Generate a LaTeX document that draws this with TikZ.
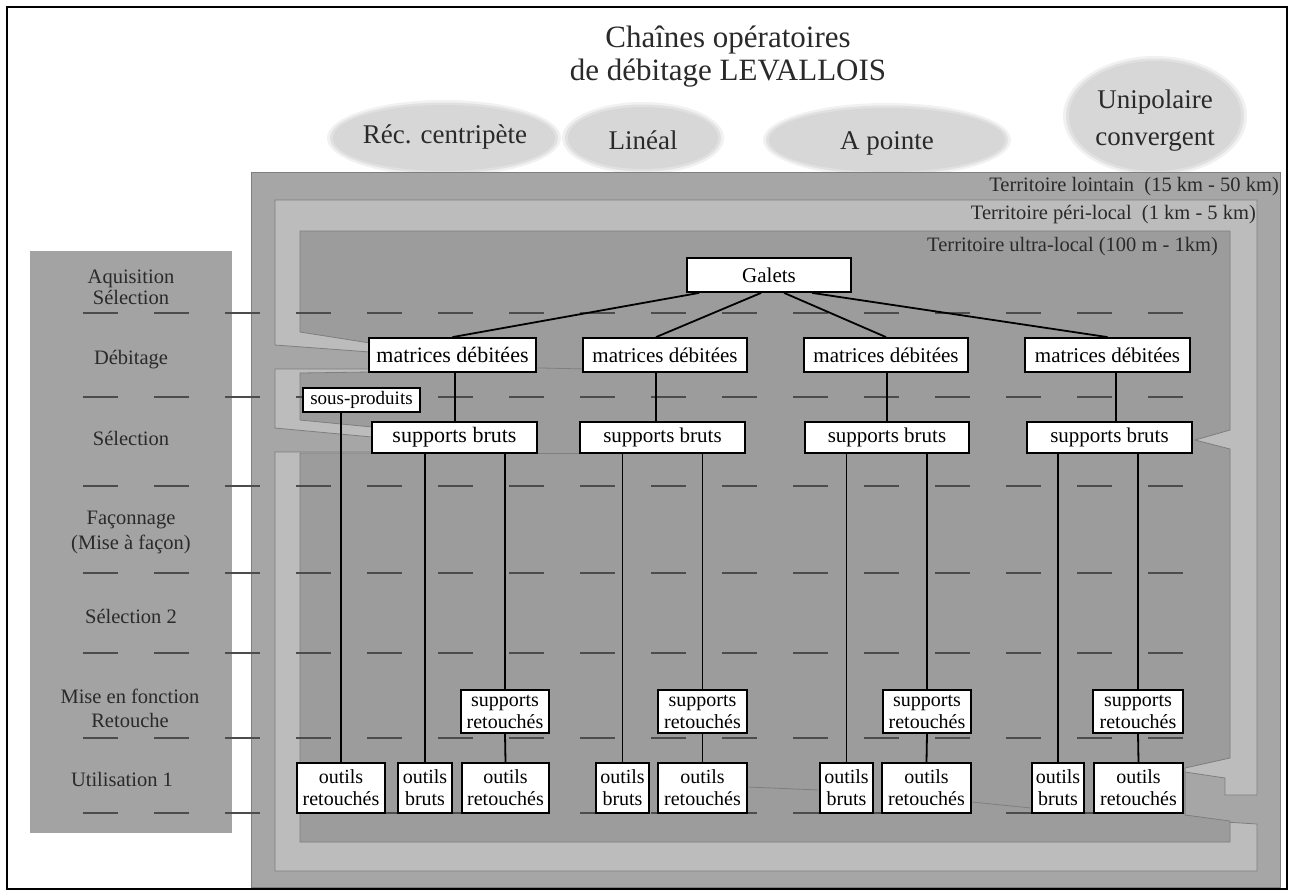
\documentclass[tikz,border=0pt]{standalone}
\usepackage{fontspec}
\setmainfont{Liberation Serif}
\usetikzlibrary{calc,shapes.geometric}
\definecolor{lointain}{HTML}{A6A6A6}
\definecolor{perilocal}{HTML}{BCBCBC}
\definecolor{ultralocal}{HTML}{9C9C9C}
\definecolor{phasepanel}{HTML}{A3A3A3}
\definecolor{edgegray}{HTML}{7E7E7E}
\definecolor{ovalgray}{HTML}{D7D7D7}
\definecolor{inkgray}{HTML}{2A2A2A}
\begin{document}
\begin{tikzpicture}[x=1pt,y=-1pt,
  bigbox/.style={draw=black,line width=1.8pt,fill=white,inner sep=0pt,
    minimum height=34pt,font=\fontsize{21}{22}\selectfont},
  smallbox/.style={draw=black,line width=1.8pt,fill=white,inner sep=0pt,
    align=center,font=\fontsize{20}{22}\selectfont},
  conn/.style={line width=1.8pt,black},
  faint/.style={line width=0.8pt,edgegray},
  rowdash/.style={line width=1.3pt,color=black!70,dash pattern=on 35pt off 36pt},
  phase/.style={align=center,text=inkgray,inner sep=0pt},
  terr/.style={anchor=east,inner sep=0pt,text=inkgray,font=\fontsize{20.5}{21}\selectfont},
  oval/.style={ellipse,fill=ovalgray,inner sep=0pt},
  ovaltext/.style={inner sep=0pt,text=inkgray,align=center,font=\fontsize{27}{37}\selectfont}]
\useasboundingbox (0,0) rectangle (1293,892);
\fill[white] (0,0) rectangle (1293,892);
\draw[line width=2pt] (7,7) rectangle (1287,889);

% title
\node[inner sep=0pt,text=inkgray,font=\fontsize{31}{33}\selectfont] (t1) at (728,40) {Chaînes opératoires};
\node[inner sep=0pt,text=inkgray,font=\fontsize{31}{33}\selectfont] (t2) at (728,73) {de débitage LEVALLOIS};

% methods, soft grey ovals
\foreach \cx/\cy/\rx/\ry in {444/138/111/33, 643/138/75/31, 887/140/118/32, 1155/116/86/55}{
  \fill[ovalgray,opacity=0.35] (\cx,\cy) ellipse [x radius=\rx+6, y radius=\ry+5];
  \fill[ovalgray,opacity=0.6] (\cx,\cy) ellipse [x radius=\rx+3, y radius=\ry+2.5];
  \fill[ovalgray] (\cx,\cy) ellipse [x radius=\rx, y radius=\ry];
}
\node[ovaltext] (e1) at (445,137) {Réc. centripète};
\node[ovaltext] (e2) at (643,140) {Linéal};
\node[ovaltext] (e3) at (887,143) {A pointe};
\node[ovaltext] (e4) at (1155,121) {Unipolaire\\convergent};

% territories
\filldraw[fill=lointain,draw=edgegray,line width=0.8pt] (251,172) rectangle (1280,887);
\filldraw[fill=perilocal,draw=edgegray,line width=0.8pt]
  (275,200) -- (1257,200) -- (1257,795) -- (1225,795) -- (1225,778) -- (1185,772)
  -- (1185,815) -- (1225,822) -- (1257,824) -- (1257,871) -- (275,871) -- (275,452)
  -- (372,452) -- (372,437) -- (275,428) -- (275,369) -- (370,369) -- (370,352)
  -- (275,345) -- cycle;
\filldraw[fill=ultralocal,draw=edgegray,line width=0.8pt]
  (300,231) -- (1230,231) -- (1230,430) -- (1195,440) -- (1230,449) -- (1230,758)
  -- (1185,768) -- (1185,815) -- (1230,821) -- (1230,842) -- (300,842) -- (300,453)
  -- (372,453) -- (372,427) -- (300,420) -- (300,373) -- (370,372) -- (370,343)
  -- (300,332) -- cycle;
\node[terr] (tl) at (1279,187) {Territoire lointain\ \ (15 km - 50 km)};
\node[terr] (tp) at (1256,215) {Territoire péri-local\ \ (1 km - 5 km)};
\node[terr] (tu) at (1218,247) {Territoire ultra-local (100 m - 1km)};

% phases panel
\fill[phasepanel] (30,251) rectangle (232,833);
\node[phase,font=\fontsize{20.5}{21}\selectfont] (p1) at (131,287) {Aquisition\\Sélection};
\node[phase,font=\fontsize{20.5}{21}\selectfont] (p2) at (131,360) {Débitage};
\node[phase,font=\fontsize{20.5}{21}\selectfont] (p3) at (131,438) {Sélection};
\node[phase,font=\fontsize{20.5}{25}\selectfont] (p4) at (131,532) {Façonnage\\(Mise à façon)};
\node[phase,font=\fontsize{20.5}{21}\selectfont] (p5) at (131,616) {Sélection 2};
\node[phase,font=\fontsize{20.5}{24}\selectfont] (p6) at (130,708) {Mise en fonction\\Retouche};
\node[phase,font=\fontsize{20.5}{21}\selectfont] (p7) at (122,779) {Utilisation 1};

% phase separators
\foreach \y in {313,397,486,573,653,738,813}
  \draw[rowdash] (83,\y) -- (1190,\y);

% boxes
\node[bigbox,minimum width=164pt] (g) at (769,275) {Galets};
\node[bigbox,minimum width=167pt,font=\fontsize{22}{22}\selectfont] (m1) at (452.5,355) {matrices débitées};
\node[bigbox,minimum width=164pt] (m2) at (665,355) {matrices débitées};
\node[bigbox,minimum width=164pt] (m3) at (886,355) {matrices débitées};
\node[bigbox,minimum width=165pt] (m4) at (1107.5,355) {matrices débitées};
\node[bigbox,minimum width=165pt,minimum height=31pt,font=\fontsize{22}{22}\selectfont] (s1) at (454.5,437.5) {supports bruts};
\node[bigbox,minimum width=165pt,minimum height=31pt] (s2) at (662.5,437.5) {supports bruts};
\node[bigbox,minimum width=164pt,minimum height=31pt] (s3) at (887,437.5) {supports bruts};
\node[bigbox,minimum width=165pt,minimum height=31pt] (s4) at (1109.5,437.5) {supports bruts};
\node[bigbox,minimum width=117pt,minimum height=24pt,font=\fontsize{19}{20}\selectfont] (sp) at (361.5,400) {sous-produits};

\node[smallbox,minimum width=88pt,minimum height=43pt] (sr1) at (505,711.5) {supports\\retouchés};
\node[smallbox,minimum width=89pt,minimum height=43pt] (sr2) at (702.5,711.5) {supports\\retouchés};
\node[smallbox,minimum width=88pt,minimum height=43pt] (sr3) at (927,711.5) {supports\\retouchés};
\node[smallbox,minimum width=90pt,minimum height=43pt] (sr4) at (1138,711.5) {supports\\retouchés};

\node[smallbox,minimum width=88pt,minimum height=50pt] (or1) at (341,788) {outils\\retouchés};
\node[smallbox,minimum width=54pt,minimum height=50pt] (ob1) at (425,788) {outils\\bruts};
\node[smallbox,minimum width=87pt,minimum height=50pt] (orr1) at (505.5,788) {outils\\retouchés};
\node[smallbox,minimum width=53pt,minimum height=50pt] (ob2) at (622.5,788) {outils\\bruts};
\node[smallbox,minimum width=89pt,minimum height=50pt] (or2) at (702.5,788) {outils\\retouchés};
\node[smallbox,minimum width=53pt,minimum height=50pt] (ob3) at (846.5,788) {outils\\bruts};
\node[smallbox,minimum width=89pt,minimum height=50pt] (or3) at (926.5,788) {outils\\retouchés};
\node[smallbox,minimum width=52pt,minimum height=50pt] (ob4) at (1058,788) {outils\\bruts};
\node[smallbox,minimum width=89pt,minimum height=50pt] (or4) at (1138.5,788) {outils\\retouchés};

% faint territory boundaries running between boxes
\draw[faint] ($(m1.south east)+(0,-5)$) -- ($(m2.south west)+(0,-4)$);
\draw[faint] ($(s1.south east)+(0,-1)$) -- ($(s2.south west)+(0,-1)$);
\draw[faint] ($(or2.east)+(0,-1)$) -- ($(ob3.west)+(0,2)$);
\draw[faint] ($(or3.east)+(0,14)$) -- ($(ob4.west)+(0,20)$);

% Galets to cores
\draw[conn] ([xshift=13pt]g.south west) -- (m1.north);
\draw[conn] ([xshift=75pt]g.south west) -- ($(m2.north)+(-9,0)$);
\draw[conn] ([xshift=98pt]g.south west) -- (m3.north);
\draw[conn] ([xshift=126pt]g.south west) -- (m4.north);

% cores to blanks
\draw[conn] ($(m1.south)+(2.5,0)$) -- ($(s1.north)+(0.5,0)$);
\draw[conn] ($(m2.south)+(-9,0)$) -- ($(s2.north)+(-6.5,0)$);
\draw[conn] ($(m3.south)+(1,0)$) -- (s3.north);
\draw[conn] ($(m4.south)+(8.5,0)$) -- ($(s4.north)+(6.5,0)$);

% blanks to tools
\draw[conn] (or1.north |- sp.south) -- (or1.north);
\foreach \s/\b/\r/\o in {s1/ob1/sr1/orr1, s2/ob2/sr2/or2, s3/ob3/sr3/or3, s4/ob4/sr4/or4}{
  \draw[conn] (\b.north |- \s.south) -- (\b.north);
  \draw[conn] (\r.north |- \s.south) -- (\r.north);
  \draw[conn] (\r.south) -- (\o.north);
}
\end{tikzpicture}
\end{document}
